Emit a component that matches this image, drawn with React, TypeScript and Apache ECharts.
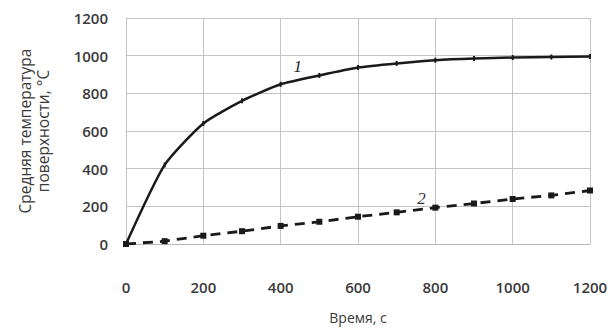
import React, { useEffect, useRef } from "react";
import * as echarts from "echarts";

const times = [0, 100, 200, 300, 400, 500, 600, 700, 800, 900, 1000, 1100, 1200];
const curve1 = [0, 420, 640, 760, 848, 895, 937, 959, 976, 985, 990, 993, 995];
const curve2 = [0, 15, 44, 68, 96, 118, 145, 168, 193, 215, 239, 258, 284];
const xTicks = [0, 200, 400, 600, 800, 1000, 1200];
const yTicks = [0, 200, 400, 600, 800, 1000, 1200];
const label1 = { text: "1", x: 444, y: 943 };
const label2 = { text: "2", x: 764, y: 240 };

export default function App() {
  const ref = useRef<HTMLDivElement>(null);
  useEffect(() => {
    if (!ref.current) return;
    const chart = echarts.init(ref.current, undefined, { renderer: "svg" });
    const font = "Open Sans";
    chart.setOption({
      animation: false,
      backgroundColor: "#ffffff",
      grid: { left: 126, right: 23, top: 18, bottom: 77 },
      xAxis: {
        type: "value",
        min: xTicks[0],
        max: xTicks[xTicks.length - 1],
        interval: 200,
        name: "Время, с",
        nameLocation: "middle",
        nameGap: 66,
        nameTextStyle: { fontFamily: font, fontSize: 14, color: "#3a3a3a" },
        axisLine: { show: true, lineStyle: { color: "#b8b8b8", width: 1 } },
        axisTick: { show: false },
        axisLabel: {
          margin: 35,
          fontFamily: font,
          fontSize: 15,
          fontWeight: 600,
          color: "#3a3a3a",
          formatter: (v: number) => String(v),
        },
        splitLine: { show: true, lineStyle: { color: "#c4c4c4", width: 1 } },
      },
      yAxis: {
        type: "value",
        min: yTicks[0],
        max: yTicks[yTicks.length - 1],
        interval: 200,
        name: "Средняя температура\nповерхности, °C",
        nameLocation: "middle",
        nameGap: 74,
        nameTextStyle: { fontFamily: font, fontSize: 15.5, color: "#3a3a3a", lineHeight: 18 },
        axisLine: { show: true, lineStyle: { color: "#c4c4c4", width: 1 } },
        axisTick: { show: false },
        axisLabel: {
          margin: 18,
          fontFamily: font,
          fontSize: 15,
          fontWeight: 600,
          color: "#3a3a3a",
          formatter: (v: number) => String(v),
        },
        splitLine: { show: true, lineStyle: { color: "#c4c4c4", width: 1 } },
      },
      series: [
        {
          type: "line",
          data: times.map((t, i) => [t, curve1[i]]),
          smooth: 0.2,
          symbol: "rect",
          symbolSize: [2, 5],
          itemStyle: { color: "#1a1a1a" },
          lineStyle: { color: "#1a1a1a", width: 2.5 },
          markPoint: {
            symbol: "circle",
            symbolSize: 0,
            data: [
              {
                coord: [label1.x, label1.y],
                label: {
                  show: true,
                  formatter: label1.text,
                  fontFamily: "Liberation Serif",
                  fontStyle: "italic",
                  fontSize: 17,
                  color: "#222",
                },
              },
            ],
          },
        },
        {
          type: "line",
          data: times.map((t, i) => [t, curve2[i]]),
          symbol: "rect",
          symbolSize: 6,
          itemStyle: { color: "#1a1a1a" },
          lineStyle: { color: "#1a1a1a", width: 2.8, type: [10, 7] },
          markPoint: {
            symbol: "circle",
            symbolSize: 0,
            data: [
              {
                coord: [label2.x, label2.y],
                label: {
                  show: true,
                  formatter: label2.text,
                  fontFamily: "Liberation Serif",
                  fontStyle: "italic",
                  fontSize: 17,
                  color: "#333",
                },
              },
            ],
          },
        },
      ],
    });
    return () => chart.dispose();
  }, []);
  return <div ref={ref} style={{ width: 613, height: 329, position: "absolute", left: 0, top: 0 }} />;
}
